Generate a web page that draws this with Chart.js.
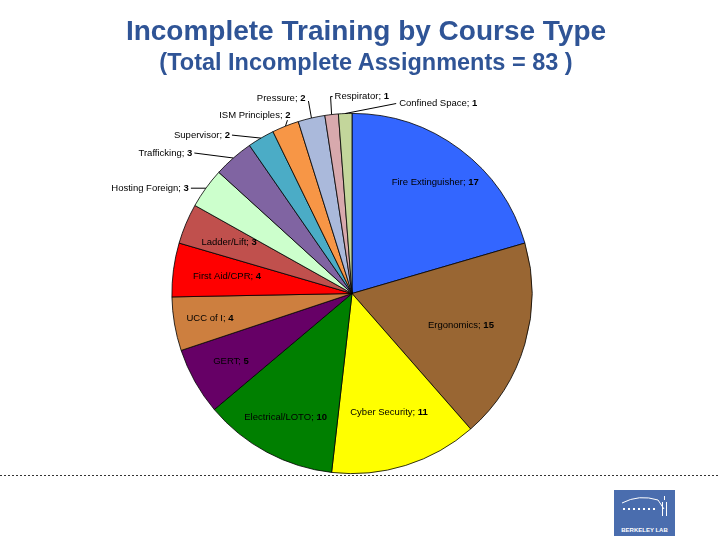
<!DOCTYPE html>
<html>
<head>
<meta charset="utf-8">
<script src="https://cdn.jsdelivr.net/npm/chart.js@4.4.1/dist/chart.umd.min.js"></script>
<style>
    body { margin: 0; background: #fff; }
    #wrap { position: relative; width: 720px; height: 540px; overflow: hidden; }
    #chart { position: absolute; left: 0; top: 0; }
    .title { position: absolute; left: 6px; width: 720px; text-align: center; font-family: "Liberation Sans", Arial, sans-serif; font-weight: bold; color: #2F5496; white-space: nowrap; }
    #t1 { top: 15px; font-size: 28px; }
    #t2 { top: 49px; font-size: 23.5px; }
    #logo { position: absolute; left: 614px; top: 490px; width: 61px; height: 46px; background: #4A6DAE; }
    #logo span { position: absolute; left: 0; width: 61px; bottom: 3px; text-align: center; color: #fff; font-family: "Liberation Sans", Arial, sans-serif; font-size: 6px; font-weight: bold; }
</style>
</head>
<body>
<div id="wrap">
    <canvas id="chart" width="720" height="540"></canvas>
    <div class="title" id="t1">Incomplete Training by Course Type</div>
    <div class="title" id="t2">(Total Incomplete Assignments = 83 )</div>
    <div id="logo"><canvas id="logoArt" width="61" height="36" style="position:absolute;left:0;top:0"></canvas><span>BERKELEY LAB</span></div>
</div>
<script>
// Course types, clockwise from 12 o'clock
const courses = [
    "Fire Extinguisher", "Ergonomics", "Cyber Security", "Electrical/LOTO", "GERT",
    "UCC of I", "First Aid/CPR", "Ladder/Lift", "Hosting Foreign", "Trafficking",
    "Supervisor", "ISM Principles", "Pressure", "Respirator", "Confined Space"
];
const incomplete = [17, 15, 11, 10, 5, 4, 4, 3, 3, 3, 2, 2, 2, 1, 1];
const sliceColors = [
    "#3366FF", "#996633", "#FFFF00", "#007F00", "#660066",
    "#CD7F3F", "#FF0000", "#C0504D", "#CCFFCC", "#8064A2",
    "#4BACC6", "#F79646", "#AAB9DB", "#D8A9AD", "#C3D69B"
];

// Label layout: inside labels sit at a fraction of the radius on the slice's mid angle,
// outside labels are offset from the point where the mid angle meets the rim
const labelLayout = [
    { inside: 0.77 }, { inside: 0.63 }, { inside: 0.69 }, { inside: 0.78 }, { inside: 0.77 },
    { inside: 0.80 }, { inside: 0.70 }, { inside: 0.74 },
    { align: "right", dx: -17, dy: 0, leader: [[-15, 0]] },
    { align: "right", dx: -41, dy: -5, leader: [[-39, -5]] },
    { align: "right", dx: -31, dy: -3, leader: [[-29, -3]] },
    { align: "right", dx: 5, dy: -11, leader: [[2, -6]] },
    { align: "right", dx: -6, dy: -20, leader: [[-3, -17]] },
    { align: "left", dx: 3, dy: -18, leader: [[1, -18], [-1, -18]] },
    { align: "left", dx: 54, dy: -10, leader: [[51, -10]] }
];

const labelFont = '9.5px "Liberation Sans", Arial, sans-serif';
const labelFontBold = 'bold 9.5px "Liberation Sans", Arial, sans-serif';

const sliceLabels = {
    id: "sliceLabels",
    afterDatasetsDraw(chart) {
        const ctx = chart.ctx;
        const arcs = chart.getDatasetMeta(0).data;
        ctx.save();
        ctx.textBaseline = "middle";
        arcs.forEach((arc, i) => {
            const p = arc.getProps(["x", "y", "startAngle", "endAngle", "outerRadius"], true);
            const mid = (p.startAngle + p.endAngle) / 2;
            const lay = labelLayout[i];
            const name = courses[i] + "; ";
            const val = String(incomplete[i]);
            ctx.font = labelFont;
            const wName = ctx.measureText(name).width;
            ctx.font = labelFontBold;
            const wVal = ctx.measureText(val).width;
            let left, ty;
            if (lay.inside) {
                const cx = p.x + Math.cos(mid) * p.outerRadius * lay.inside;
                const cy = p.y + Math.sin(mid) * p.outerRadius * lay.inside;
                left = cx - (wName + wVal) / 2;
                ty = cy;
            } else {
                const ex = p.x + Math.cos(mid) * p.outerRadius;
                const ey = p.y + Math.sin(mid) * p.outerRadius;
                ctx.strokeStyle = "#000";
                ctx.lineWidth = 1;
                ctx.beginPath();
                lay.leader.forEach((pt, k) => {
                    if (k === 0) ctx.moveTo(ex + pt[0], ey + pt[1]);
                    else ctx.lineTo(ex + pt[0], ey + pt[1]);
                });
                ctx.lineTo(ex, ey);
                ctx.stroke();
                const ax = ex + lay.dx;
                left = lay.align === "right" ? ax - (wName + wVal) : ax;
                ty = ey + lay.dy;
            }
            ctx.fillStyle = "#000";
            ctx.textAlign = "left";
            ctx.font = labelFont;
            ctx.fillText(name, left, ty);
            ctx.font = labelFontBold;
            ctx.fillText(val, left + wName, ty);
        });

        // dotted rule under the pie
        ctx.strokeStyle = "#333";
        ctx.lineWidth = 1;
        ctx.setLineDash([2, 2]);
        ctx.beginPath();
        ctx.moveTo(0, 475.5);
        ctx.lineTo(720, 475.5);
        ctx.stroke();
        ctx.restore();
    }
};

new Chart(document.getElementById("chart"), {
    type: "pie",
    data: {
        labels: courses,
        datasets: [{
            data: incomplete,
            backgroundColor: sliceColors,
            borderColor: "#000",
            borderWidth: 0.8,
            hoverOffset: 0
        }]
    },
    options: {
        responsive: false,
        animation: false,
        layout: { padding: { left: 171, top: 113, right: 187, bottom: 66 } },
        plugins: {
            legend: { display: false },
            tooltip: { enabled: false }
        }
    },
    plugins: [sliceLabels]
});

// little dome sketch for the logo
const lc = document.getElementById("logoArt").getContext("2d");
lc.strokeStyle = "#fff";
lc.fillStyle = "#fff";
lc.lineWidth = 1;
lc.beginPath();
lc.moveTo(8, 13);
lc.quadraticCurveTo(25, 4, 44, 10);
lc.lineTo(50, 19);
lc.stroke();
for (let k = 0; k < 7; k++) lc.fillRect(9 + k * 5, 18, 2, 2);
lc.fillRect(48, 12, 1, 14);
lc.fillRect(52, 12, 1, 14);
lc.fillRect(50, 6, 1, 4);
</script>
</body>
</html>
